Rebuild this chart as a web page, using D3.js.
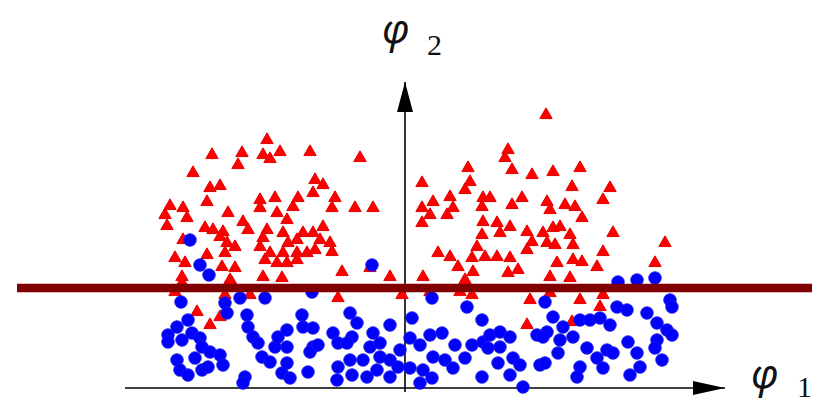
<!DOCTYPE html>
<html>
<head>
<meta charset="utf-8">
<script src="https://cdn.jsdelivr.net/npm/d3@7"></script>
<style>
  html, body { margin: 0; padding: 0; background: #fff; }
  svg { display: block; }
</style>
</head>
<body>
<svg id="chart" width="818" height="404"></svg>
<script>
// Class 1 (red triangles): [phi1, phi2]
const classA = [
  [-13.8,24.8],[-19.3,23.3],[-16.3,23.5],[-14.2,23.3],[-12.5,23.6],[-13.5,22.9],[-16.7,22.3],[-9.5,23.6],
  [-4.5,23.0],[-21.2,21.5],[-19.5,20.0],[-18.5,20.2],[-9.0,20.8],[-8.2,20.3],[-9.2,19.5],[-19.8,18.6],
  [-23.5,18.2],[-24.0,17.3],[-22.2,18.0],[-21.8,17.0],[-23.8,16.2],[-17.7,17.5],[-14.5,18.8],[-14.5,18.0],
  [-13.0,19.0],[-10.7,19.0],[-11.2,18.1],[-12.8,17.5],[-11.8,16.8],[-7.0,19.0],[-7.3,18.0],[-5.0,18.0],
  [-3.2,18.0],[-16.2,16.6],[-15.7,15.8],[-20.0,16.0],[-19.2,15.8],[-18.2,15.6],[-18.5,15.1],[-22.2,14.8],
  [-13.8,15.8],[-14.2,15.0],[-14.5,14.1],[-12.2,15.5],[-11.7,14.5],[-10.8,14.8],[-10.2,15.5],[-9.2,15.5],
  [-8.2,16.1],[-8.5,14.8],[-7.5,14.5],[-9.0,13.8],[-9.8,13.5],[-10.8,13.5],[-12.2,13.5],[-13.5,13.5],
  [-14.0,12.8],[-12.8,12.5],[-11.8,12.5],[-10.8,12.8],[-17.8,14.5],[-17.0,14.1],[-18.0,13.5],[-19.8,13.3],
  [-23.0,13.0],[-22.0,12.5],[-22.3,11.1],[-18.3,12.1],[-17.0,12.0],[-17.5,10.8],[-14.2,11.1],[-12.3,11.0],
  [-6.3,11.6],[-3.5,12.0],[-1.5,11.1],[-7.3,13.6],
  [14.1,27.3],[10.3,23.8],[10.0,23.0],[6.3,22.0],[10.7,21.8],[12.7,21.3],[14.8,21.6],[17.5,22.0],
  [1.7,20.5],[6.5,20.6],[6.0,19.8],[16.7,20.1],[20.5,20.0],[19.8,18.8],[4.5,19.1],[2.8,18.6],
  [1.7,18.0],[2.5,17.3],[1.7,16.5],[4.2,17.3],[4.8,18.0],[7.8,19.0],[8.5,19.0],[7.7,18.1],
  [10.7,18.3],[11.7,19.0],[14.2,18.6],[14.5,17.8],[16.0,18.3],[17.0,18.1],[17.7,17.0],[7.8,16.6],
  [9.2,16.5],[10.5,16.1],[9.5,15.5],[7.7,15.3],[12.2,15.6],[12.7,14.6],[13.8,15.5],[14.8,16.0],
  [15.5,16.1],[16.5,15.3],[14.2,14.5],[15.0,14.3],[16.8,14.3],[20.8,15.5],[12.2,13.8],[7.2,14.1],
  [3.3,13.5],[4.5,13.1],[6.7,13.0],[5.3,12.1],[8.0,13.1],[9.2,13.1],[10.5,13.0],[15.2,12.5],
  [16.8,12.8],[17.7,12.6],[19.2,12.1],[19.8,13.6],[10.3,11.5],[11.3,11.8],[14.5,11.1],[16.5,11.0],
  [1.8,11.1],[6.0,10.8],[26.0,14.5],[25.0,12.5],[6.8,11.6],
  [-22.3,10.5],[-23.0,9.6],[-17.3,10.5],[-18.0,9.3],[-15.5,9.3],[-6.7,9.0],[-0.3,9.3],[-20.8,7.6],
  [-18.5,7.1],[-19.5,6.3],[2.5,9.6],[5.5,9.6],[6.7,9.3],[14.5,9.5],[17.5,8.8],[12.5,8.8],
  [19.8,9.3],[19.5,8.1],[12.2,6.3],[16.7,6.6]
];

// Class 2 (blue circles): [phi1, phi2]
const classB = [
  [-21.5,14.8],[-20.5,12.3],[-19.6,11.3],[-3.3,12.3],
  [-22.4,8.6],[-14.0,9.0],[-16.5,9.0],[-18.0,8.5],[-17.8,7.5],[-15.8,7.3],[-21.7,6.8],[-22.8,6.1],
  [-23.7,5.3],[-23.7,4.6],[-22.3,4.8],[-21.3,5.5],[-20.5,5.0],[-20.3,4.1],[-19.5,3.6],[-18.5,3.3],
  [-18.2,2.3],[-21.0,3.0],[-22.8,2.8],[-22.5,1.8],[-21.7,1.3],[-20.3,1.8],[-19.7,2.1],[-16.0,1.1],
  [-16.2,0.5],[-15.7,6.1],[-15.2,5.1],[-14.7,4.5],[-14.3,3.1],[-13.5,2.6],[-13.0,4.1],[-12.7,5.1],
  [-12.3,1.5],
  [-9.3,9.6],[-10.3,7.3],[-10.2,6.1],[-9.2,6.0],[-11.8,5.8],[-11.8,4.1],[-11.8,2.5],[-11.5,1.0],
  [-9.7,1.6],[-9.2,4.1],[-9.5,3.6],[-8.7,4.3],[-7.2,5.5],[-6.7,4.5],[-5.5,7.5],[-4.8,6.5],
  [-5.3,5.1],[-5.8,4.5],[-5.5,2.8],[-6.7,2.1],[-6.8,0.8],[-5.3,1.3],[-4.2,2.8],[-3.8,1.1],
  [-3.2,5.5],[-3.5,4.1],[-2.5,4.5],[-1.5,6.3],[-2.5,3.1],[-2.8,1.8],[-1.5,2.8],[-0.5,3.8],
  [-0.7,2.1],[-1.5,1.1],
  [2.7,9.0],[6.2,8.1],[0.7,7.0],[7.7,6.8],[0.5,5.0],[1.5,4.3],[2.5,5.3],[3.7,5.5],
  [5.0,4.3],[4.0,2.8],[2.8,3.1],[1.8,1.8],[0.5,2.0],[1.5,0.5],[2.7,1.0],[4.8,2.0],
  [6.0,3.0],[6.7,4.3],[7.8,4.6],[8.5,5.3],[9.5,5.6],[10.5,5.1],[9.5,4.1],[8.3,4.0],
  [9.3,2.5],[10.8,3.0],[11.5,2.3],[10.5,1.3],[7.7,1.1],[11.8,0.1],[13.2,5.3],[13.5,2.3],
  [14.0,8.6],[14.8,7.1],[14.2,5.6],[13.8,5.1],[15.5,4.8],[16.8,5.1],[17.5,6.8],[18.5,6.8],
  [19.5,7.0],[20.5,6.3],[21.2,8.1],[22.2,7.8],[15.3,3.5],[14.0,2.5],[18.2,4.0],[19.2,3.0],
  [20.2,3.8],[20.8,3.5],[19.8,2.0],[17.5,2.1],[17.2,1.1],[22.3,4.6],[23.2,3.5],[23.5,2.1],
  [22.5,1.3],[24.2,7.5],[25.2,6.5],[26.2,5.8],[26.7,5.3],[25.2,4.8],[25.0,4.0],[25.7,2.8],
  [26.5,8.8],[26.7,8.1],[21.3,10.6],[23.2,10.8],[25.0,11.0],[15.8,6.1]
];

// Separating line phi2 = threshold, spanning phi1 from lineFrom to lineTo
const threshold = 10.0;
const lineFrom = -38.8, lineTo = 40.7;

// Axis extents (phi1 and phi2 ranges of the two arrows)
const xAxisRange = [-28.0, 32.0];
const yAxisRange = [-0.4, 30.6];

const axisLabels = [
  { name: "x", main: "φ", sub: "1" },
  { name: "y", main: "φ", sub: "2" }
];

const svg = d3.select("#chart");
const W = 818;

const x = d3.scaleLinear().domain([-40.5, 41.3]).range([0, W]);
const y = d3.scaleLinear().domain([0, 38.8]).range([388, 0]);

// arrowheads
const defs = svg.append("defs");
defs.append("marker")
  .attr("id", "arrowX")
  .attr("viewBox", "0 0 32 14")
  .attr("refX", 32).attr("refY", 7)
  .attr("markerWidth", 32).attr("markerHeight", 14)
  .attr("markerUnits", "userSpaceOnUse")
  .attr("orient", "auto")
  .append("path").attr("d", "M0,0 L32,7 L0,14 Z").attr("fill", "#000");
defs.append("marker")
  .attr("id", "arrowY")
  .attr("viewBox", "0 0 30 16")
  .attr("refX", 30).attr("refY", 8)
  .attr("markerWidth", 30).attr("markerHeight", 16)
  .attr("markerUnits", "userSpaceOnUse")
  .attr("orient", "auto")
  .append("path").attr("d", "M0,0 L30,8 L0,16 Z").attr("fill", "#000");

// axes
svg.append("line")
  .attr("x1", x(xAxisRange[0])).attr("x2", x(xAxisRange[1]))
  .attr("y1", y(0)).attr("y2", y(0))
  .attr("stroke", "#000").attr("stroke-width", 1.6)
  .attr("marker-end", "url(#arrowX)");
svg.append("line")
  .attr("x1", x(0)).attr("x2", x(0))
  .attr("y1", y(yAxisRange[0])).attr("y2", y(yAxisRange[1]))
  .attr("stroke", "#000").attr("stroke-width", 1.6)
  .attr("marker-end", "url(#arrowY)");

// red triangles
const tri = d3.symbol().type(d3.symbolTriangle).size(66);
svg.append("g").selectAll("path")
  .data(classA).join("path")
  .attr("d", tri)
  .attr("transform", d => `translate(${x(d[0])},${y(d[1])})`)
  .attr("fill", "#ff0000")
  .attr("stroke", "#e60000")
  .attr("stroke-width", 1);

// blue circles
svg.append("g").selectAll("circle")
  .data(classB).join("circle")
  .attr("cx", d => x(d[0]))
  .attr("cy", d => y(d[1]))
  .attr("r", 6.3)
  .attr("fill", "#0000ff")
  .attr("stroke", "#1a1ae6")
  .attr("stroke-width", 0.8);

// separating line
svg.append("line")
  .attr("x1", x(lineFrom)).attr("x2", x(lineTo))
  .attr("y1", y(threshold)).attr("y2", y(threshold))
  .attr("stroke", "#800000").attr("stroke-width", 8.5);

// axis labels
const labelPos = {
  x: { lx: 751, ly: 388, sx: 797, sy: 397 },
  y: { lx: 382, ly: 43, sx: 427, sy: 55 }
};
axisLabels.forEach(l => {
  const p = labelPos[l.name];
  svg.append("text")
    .attr("x", p.lx).attr("y", p.ly)
    .attr("font-family", "'Noto Sans', 'Open Sans', sans-serif")
    .attr("font-style", "italic")
    .attr("font-size", 40)
    .attr("fill", "#111")
    .text(l.main);
  svg.append("text")
    .attr("x", p.sx).attr("y", p.sy)
    .attr("font-family", "'Liberation Serif', serif")
    .attr("font-size", 30)
    .attr("fill", "#111")
    .text(l.sub);
});
</script>
</body>
</html>
